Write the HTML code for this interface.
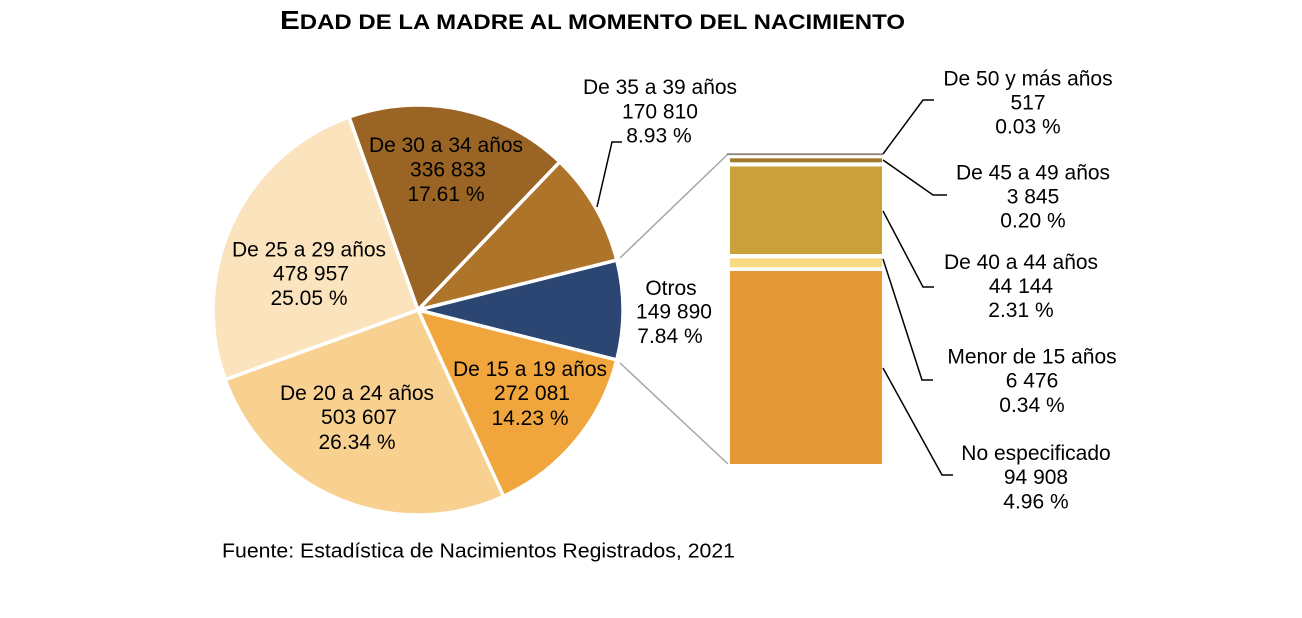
<!DOCTYPE html>
<html>
<head>
<meta charset="utf-8">
<style>
  html,body{margin:0;padding:0;background:#ffffff;}
  svg{display:block;}
  text{font-family:"Liberation Sans",Arial,sans-serif;fill:#000;}
  .lb{font-size:21px;}
</style>
</head>
<body>
<svg width="1302" height="618" viewBox="0 0 1302 618" xmlns="http://www.w3.org/2000/svg">
  <rect x="0" y="0" width="1302" height="618" fill="#ffffff"/>

  <!-- Title -->
  <text x="280" y="29" font-weight="bold" textLength="625" lengthAdjust="spacingAndGlyphs"><tspan font-size="26">E</tspan><tspan font-size="21">DAD DE LA MADRE AL MOMENTO DEL NACIMIENTO</tspan></text>

  <!-- Pie slices -->
  <g stroke="#ffffff" stroke-width="3.5" stroke-linejoin="round">
    <path d="M418,310 L616.81,260.02 A205,205 0 0 1 616.81,359.98 Z" fill="#2B4673"/>
    <path d="M418,310 L616.81,359.98 A205,205 0 0 1 503.54,496.30 Z" fill="#F0A53D"/>
    <path d="M418,310 L503.54,496.30 A205,205 0 0 1 225.16,379.56 Z" fill="#F8D08F"/>
    <path d="M418,310 L225.16,379.56 A205,205 0 0 1 349.04,116.95 Z" fill="#FBE4BD"/>
    <path d="M418,310 L349.04,116.95 A205,205 0 0 1 559.74,161.90 Z" fill="#996424"/>
    <path d="M418,310 L559.74,161.90 A205,205 0 0 1 616.81,260.02 Z" fill="#AD742A"/>
  </g>

  <!-- Connector lines to bar -->
  <line x1="620" y1="258" x2="728" y2="154" stroke="#A6A6A6" stroke-width="1.5"/>
  <line x1="620" y1="363" x2="728" y2="464" stroke="#A6A6A6" stroke-width="1.5"/>

  <!-- Stacked bar -->
  <rect x="727" y="153.3" width="156" height="1.8" fill="#8E8270"/>
  <rect x="730" y="158.3" width="152" height="4" fill="#A27A2C"/>
  <rect x="730" y="166.5" width="152" height="87.5" fill="#CAA03A"/>
  <rect x="730" y="258.3" width="152" height="9" fill="#F8DA85"/>
  <rect x="730" y="271" width="152" height="193" fill="#E59836"/>

  <!-- Callout lines -->
  <g fill="none" stroke="#000" stroke-width="1.5">
    <polyline points="597,207 612,142 622,142"/>
    <polyline points="883,154 923,100 934,100"/>
    <polyline points="883,160 933,195 947,195"/>
    <polyline points="883,211 923,287 934,287"/>
    <polyline points="883,259 922,380 933,380"/>
    <polyline points="883,368 942,475 953,475"/>
  </g>

  <!-- Labels -->
  <g class="lb" text-anchor="middle">
    <text x="446" y="152">De 30 a 34 años</text>
    <text x="448" y="176.5">336 833</text>
    <text x="446" y="201">17.61 %</text>

    <text x="309" y="256.5">De 25 a 29 años</text>
    <text x="311" y="280.5">478 957</text>
    <text x="309" y="305">25.05 %</text>

    <text x="357" y="400">De 20 a 24 años</text>
    <text x="359" y="424">503 607</text>
    <text x="357" y="449">26.34 %</text>

    <text x="530" y="376">De 15 a 19 años</text>
    <text x="532" y="400">272 081</text>
    <text x="530" y="425">14.23 %</text>

    <text x="671" y="295">Otros</text>
    <text x="674" y="318.5">149 890</text>
    <text x="670" y="343">7.84 %</text>

    <text x="660" y="94">De 35 a 39 años</text>
    <text x="660" y="118.5">170 810</text>
    <text x="659" y="142.5">8.93 %</text>

    <text x="1028" y="85.5">De 50 y más años</text>
    <text x="1028" y="109.5">517</text>
    <text x="1028" y="133.5">0.03 %</text>

    <text x="1033" y="179.5">De 45 a 49 años</text>
    <text x="1033" y="203.5">3 845</text>
    <text x="1033" y="227.5">0.20 %</text>

    <text x="1021" y="269">De 40 a 44 años</text>
    <text x="1021" y="293">44 144</text>
    <text x="1021" y="317">2.31 %</text>

    <text x="1032" y="363.5">Menor de 15 años</text>
    <text x="1032" y="387.5">6 476</text>
    <text x="1032" y="412">0.34 %</text>

    <text x="1036" y="460">No especificado</text>
    <text x="1036" y="484">94 908</text>
    <text x="1036" y="508.5">4.96 %</text>
  </g>

  <!-- Footer -->
  <text x="222" y="557.5" font-size="20" textLength="513" lengthAdjust="spacingAndGlyphs">Fuente: Estadística de Nacimientos Registrados, 2021</text>
</svg>
</body>
</html>
